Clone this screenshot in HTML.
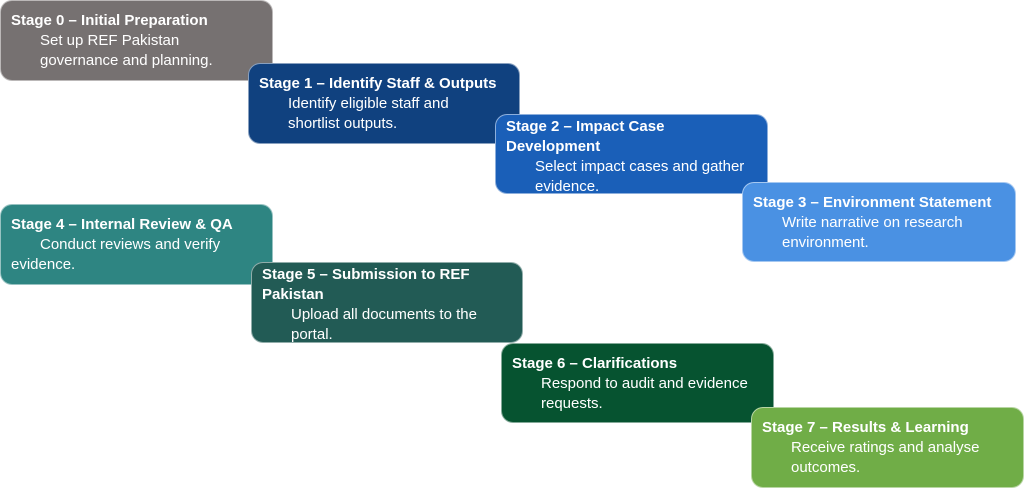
<!DOCTYPE html>
<html><head><meta charset="utf-8"><style>
body{margin:0;width:1024px;height:488px;background:#fff;position:relative;overflow:hidden;font-family:"Liberation Sans",sans-serif}
.b{position:absolute;border-radius:12px;color:#fff;box-sizing:border-box;padding:10px 0 0 10px;border:1px solid rgba(255,255,255,.5)}
.t{font-weight:bold;font-size:15px;line-height:20px;white-space:nowrap}
.d{font-size:15px;line-height:20px;padding-left:29px;white-space:nowrap}
</style></head><body>
<div class="b" style="left:0;top:0;width:273px;height:81px;background:#767171"><div class="t">Stage 0 – Initial Preparation</div><div class="d">Set up REF Pakistan<br>governance and planning.</div></div>
<div class="b" style="left:248px;top:63px;width:272px;height:81px;background:#10417f"><div class="t">Stage 1 – Identify Staff &amp; Outputs</div><div class="d">Identify eligible staff and<br>shortlist outputs.</div></div>
<div class="b" style="left:495px;top:114px;width:273px;height:80px;background:#1a5fb8;padding-top:2px"><div class="t">Stage 2 – Impact Case<br>Development</div><div class="d">Select impact cases and gather<br>evidence.</div></div>
<div class="b" style="left:742px;top:182px;width:274px;height:80px;background:#4a91e3"><div class="t">Stage 3 – Environment Statement</div><div class="d">Write narrative on research<br>environment.</div></div>
<div class="b" style="left:0;top:204px;width:273px;height:81px;background:#2e8582"><div class="t">Stage 4 – Internal Review &amp; QA</div><div class="d">Conduct reviews and verify<br><span style="margin-left:-29px">evidence.</span></div></div>
<div class="b" style="left:251px;top:262px;width:272px;height:81px;background:#225b55;padding-top:2px"><div class="t">Stage 5 – Submission to REF<br>Pakistan</div><div class="d">Upload all documents to the<br>portal.</div></div>
<div class="b" style="left:501px;top:343px;width:273px;height:80px;background:#065330"><div class="t">Stage 6 – Clarifications</div><div class="d">Respond to audit and evidence<br>requests.</div></div>
<div class="b" style="left:751px;top:407px;width:273px;height:81px;background:#70ad47"><div class="t">Stage 7 – Results &amp; Learning</div><div class="d">Receive ratings and analyse<br>outcomes.</div></div>
</body></html>
